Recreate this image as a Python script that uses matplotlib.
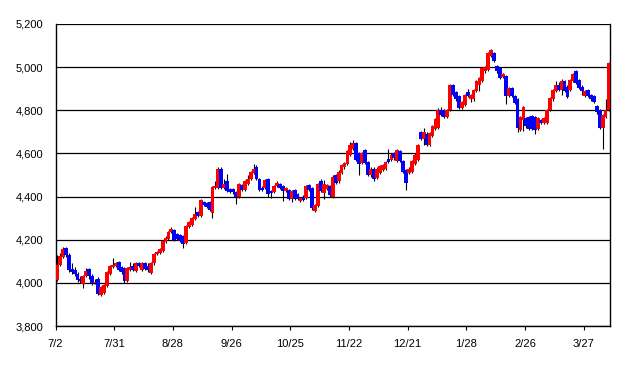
import matplotlib.pyplot as plt

# daily OHLC, 189 sessions from 7/2
opens = [4015, 4085, 4120, 4160, 4130, 4065, 4060, 4040, 4020, 3995,
         4030, 4065, 4030, 4000, 4020, 3945, 3955, 3985, 4040, 4075,
         4080, 4095, 4075, 4070, 4010, 4060, 4080, 4055, 4090, 4060,
         4090, 4080, 4045, 4090, 4135, 4140, 4150, 4190, 4205, 4235,
         4245, 4225, 4220, 4215, 4185, 4260, 4270, 4295, 4330, 4310,
         4375, 4370, 4375, 4325, 4440, 4440, 4530, 4440, 4470, 4435,
         4435, 4420, 4400, 4455, 4430, 4460, 4480, 4510, 4535, 4480,
         4440, 4440, 4480, 4425, 4420, 4450, 4460, 4450, 4425, 4430,
         4390, 4430, 4410, 4380, 4400, 4395, 4455, 4440, 4335, 4355,
         4470, 4415, 4435, 4450, 4400, 4500, 4470, 4510, 4535, 4550,
         4595, 4620, 4648, 4600, 4555, 4615, 4560, 4500, 4530, 4485,
         4510, 4525, 4530, 4575, 4570, 4600, 4565, 4610, 4565, 4525,
         4510, 4515, 4550, 4570, 4700, 4665, 4690, 4640, 4680, 4715,
         4720, 4800, 4800, 4770, 4800, 4915, 4885, 4865, 4810, 4825,
         4885, 4850, 4850, 4890, 4915, 4935, 4980, 4985, 5050, 5065,
         5005, 4995, 4955, 4960, 4865, 4905, 4865, 4850, 4710, 4755,
         4765, 4770, 4775, 4770, 4715, 4755, 4740, 4740, 4800, 4850,
         4890, 4915, 4895, 4935, 4910, 4895, 4935, 4980, 4940, 4910,
         4865, 4895, 4870, 4865, 4820, 4800, 4720, 4770, 4800]
highs = [4130, 4140, 4165, 4165, 4140, 4090, 4075, 4050, 4030, 4035,
         4070, 4070, 4040, 4020, 4025, 3985, 3995, 4055, 4085, 4115,
         4095, 4100, 4080, 4075, 4075, 4095, 4090, 4095, 4095, 4095,
         4095, 4090, 4095, 4140, 4150, 4160, 4200, 4215, 4240, 4260,
         4250, 4230, 4225, 4220, 4270, 4285, 4305, 4350, 4335, 4390,
         4380, 4375, 4380, 4450, 4470, 4535, 4535, 4480, 4505, 4440,
         4440, 4425, 4465, 4460, 4475, 4500, 4520, 4550, 4545, 4485,
         4450, 4480, 4485, 4430, 4455, 4470, 4465, 4455, 4445, 4435,
         4430, 4435, 4415, 4400, 4405, 4455, 4460, 4445, 4365, 4465,
         4480, 4475, 4460, 4455, 4500, 4505, 4525, 4550, 4560, 4615,
         4655, 4660, 4655, 4605, 4605, 4620, 4565, 4535, 4535, 4535,
         4545, 4550, 4565, 4620, 4600, 4605, 4620, 4615, 4570, 4530,
         4535, 4570, 4600, 4645, 4705, 4720, 4700, 4700, 4730, 4765,
         4810, 4815, 4805, 4805, 4920, 4920, 4890, 4870, 4845, 4875,
         4900, 4875, 4900, 4940, 4955, 5000, 5005, 5070, 5085, 5070,
         5010, 5000, 4975, 4965, 4910, 4910, 4870, 4855, 4775, 4820,
         4770, 4775, 4780, 4775, 4770, 4760, 4770, 4805, 4860, 4900,
         4935, 4930, 4945, 4940, 4915, 4945, 4975, 4985, 4945, 4915,
         4895, 4900, 4875, 4870, 4825, 4805, 4785, 4850, 5025]
lows = [4010, 4080, 4115, 4120, 4050, 4040, 4030, 4005, 4000, 3975,
        4025, 4020, 3990, 3995, 3945, 3940, 3950, 3980, 4035, 4070,
        4075, 4055, 4040, 4000, 4005, 4055, 4055, 4050, 4075, 4055,
        4060, 4050, 4040, 4085, 4130, 4135, 4145, 4185, 4200, 4230,
        4195, 4200, 4190, 4160, 4180, 4255, 4265, 4290, 4305, 4305,
        4355, 4345, 4335, 4300, 4435, 4435, 4435, 4435, 4420, 4415,
        4410, 4365, 4395, 4425, 4425, 4455, 4475, 4505, 4475, 4425,
        4425, 4435, 4400, 4395, 4415, 4445, 4435, 4380, 4420, 4385,
        4375, 4385, 4385, 4375, 4380, 4390, 4425, 4340, 4330, 4350,
        4420, 4390, 4430, 4400, 4395, 4460, 4465, 4505, 4530, 4545,
        4590, 4615, 4565, 4500, 4550, 4550, 4495, 4490, 4470, 4480,
        4505, 4520, 4525, 4555, 4565, 4570, 4560, 4560, 4510, 4430,
        4505, 4510, 4545, 4565, 4660, 4640, 4635, 4635, 4675, 4710,
        4715, 4775, 4765, 4765, 4795, 4865, 4845, 4805, 4805, 4820,
        4860, 4840, 4845, 4885, 4890, 4930, 4975, 4980, 5045, 5025,
        4975, 4945, 4950, 4830, 4860, 4860, 4830, 4700, 4705, 4705,
        4720, 4710, 4710, 4690, 4710, 4735, 4735, 4735, 4795, 4845,
        4885, 4890, 4870, 4885, 4855, 4890, 4930, 4920, 4900, 4870,
        4860, 4860, 4845, 4835, 4785, 4715, 4620, 4765, 4795]
closes = [4085, 4125, 4155, 4130, 4060, 4050, 4040, 4015, 4010, 4030,
          4055, 4030, 4000, 4005, 3950, 3980, 3990, 4050, 4080, 4085,
          4090, 4060, 4050, 4010, 4070, 4075, 4060, 4090, 4080, 4090,
          4065, 4060, 4090, 4135, 4145, 4155, 4195, 4210, 4235, 4250,
          4200, 4205, 4195, 4180, 4265, 4280, 4300, 4320, 4310, 4385,
          4360, 4350, 4340, 4445, 4450, 4530, 4440, 4460, 4425, 4420,
          4420, 4400, 4460, 4430, 4470, 4480, 4515, 4530, 4480, 4430,
          4430, 4475, 4410, 4415, 4450, 4465, 4440, 4425, 4440, 4390,
          4425, 4390, 4390, 4395, 4385, 4450, 4430, 4345, 4360, 4460,
          4425, 4460, 4455, 4405, 4490, 4465, 4515, 4545, 4555, 4610,
          4640, 4648, 4570, 4550, 4600, 4555, 4500, 4530, 4480, 4530,
          4540, 4545, 4560, 4560, 4595, 4580, 4615, 4565, 4515, 4465,
          4530, 4565, 4595, 4640, 4665, 4700, 4640, 4695, 4725, 4760,
          4800, 4780, 4770, 4800, 4915, 4870, 4850, 4810, 4840, 4870,
          4865, 4870, 4895, 4935, 4950, 4995, 5000, 5065, 5080, 5030,
          4980, 4950, 4970, 4865, 4905, 4865, 4835, 4720, 4770, 4815,
          4725, 4715, 4715, 4710, 4765, 4740, 4765, 4800, 4855, 4895,
          4915, 4895, 4935, 4890, 4860, 4940, 4970, 4925, 4905, 4890,
          4890, 4865, 4850, 4840, 4790, 4720, 4780, 4800, 5020]
tick_labels = ["7/2", "7/31", "8/28", "9/26", "10/25",
               "11/22", "12/21", "1/28", "2/26", "3/27"]

plt.rcParams["font.family"] = ["Liberation Sans", "DejaVu Sans"]
fig = plt.figure(figsize=(6.26, 3.68), dpi=100)
ax = fig.add_axes([0.0887, 0.1141, 0.8857, 0.8207])

xs = [i + 0.5 for i in range(len(closes))]
colors = ["#ff0000" if c >= o else "#0000ff" for o, c in zip(opens, closes)]
bottoms = [min(o, c) for o, c in zip(opens, closes)]
heights = [abs(c - o) for o, c in zip(opens, closes)]

ax.vlines(xs, lows, highs, color="black", linewidth=0.8, zorder=2)
ax.bar(xs, heights, bottom=bottoms, width=1.3, color=colors, linewidth=0,
       antialiased=False, zorder=3)

ax.set_xlim(0, len(closes))
ax.set_ylim(3800, 5200)
ax.set_yticks(range(3800, 5201, 200))
ax.set_yticklabels([f"{v:,}" for v in range(3800, 5201, 200)])
ax.set_xticks(range(0, 181, 20))
ax.set_xticklabels(tick_labels)
ax.grid(axis="y", color="black", linewidth=0.9)
ax.set_axisbelow(True)
ax.tick_params(axis="y", length=0, labelsize=8, pad=9)
ax.tick_params(axis="x", length=3, width=0.8, labelsize=8, pad=6)
ax.spines["top"].set_visible(False)
for s in ["left", "bottom", "right"]:
    ax.spines[s].set_linewidth(1.0)

plt.savefig("out.png", dpi=100)
